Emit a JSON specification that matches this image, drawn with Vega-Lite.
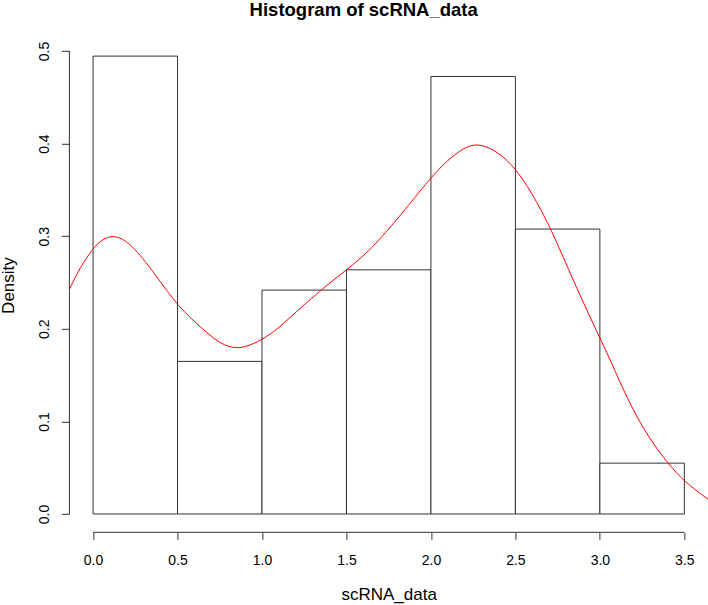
{
  "$schema": "https://vega.github.io/schema/vega-lite/v6.json",
  "width": 638.6,
  "height": 494.5,
  "autosize": {"type": "none"},
  "padding": {"left": 69.4, "top": 37.8, "right": 0, "bottom": 72.7},
  "background": "white",
  "config": {
    "view": {"stroke": null},
    "font": "Liberation Sans",
    "axis": {"domain": false, "grid": false, "tickColor": "#333333", "tickSize": 7, "labelFont": "Liberation Sans", "labelFontSize": 14, "labelColor": "#000000", "titleFont": "Liberation Sans", "titleFontSize": 17, "titleFontWeight": "normal", "titleColor": "#000000", "labelFlush": false, "labelOverlap": false},
    "axisX": {"tickCount": 8, "labelPadding": 14, "labelBaseline": "top", "labelAngle": 0, "titleX": 319.3, "titleY": 67.5, "titleBaseline": "alphabetic", "titleAlign": "center"},
    "axisY": {"tickCount": 6, "labelAngle": -90, "labelAlign": "center", "labelBaseline": "bottom", "labelPadding": 10, "tickSize": 8, "titleAngle": -90, "titleX": -55.5, "titleY": 247.25, "titleAlign": "center", "titleBaseline": "alphabetic"}
  },
  "title": {"text": "Histogram of scRNA_data", "anchor": "middle", "frame": "group", "dx": -25, "dy": 14, "baseline": "alphabetic", "offset": 17.5, "fontSize": 18.5, "fontWeight": "bold", "color": "#000000", "font": "Liberation Sans"},
  "datasets": {
    "bins": [
      {"start": 0.0, "end": 0.5, "density": 0.4945},
      {"start": 0.5, "end": 1.0, "density": 0.1648},
      {"start": 1.0, "end": 1.5, "density": 0.2418},
      {"start": 1.5, "end": 2.0, "density": 0.2637},
      {"start": 2.0, "end": 2.5, "density": 0.4725},
      {"start": 2.5, "end": 3.0, "density": 0.3077},
      {"start": 3.0, "end": 3.5, "density": 0.0549}
    ],
    "dens": [
      {"x": -0.14, "y": 0.2426},
      {"x": -0.075, "y": 0.267},
      {"x": 0.0, "y": 0.287},
      {"x": 0.05, "y": 0.296},
      {"x": 0.107, "y": 0.3005},
      {"x": 0.162, "y": 0.2985},
      {"x": 0.24, "y": 0.289},
      {"x": 0.38, "y": 0.256},
      {"x": 0.5, "y": 0.2245},
      {"x": 0.656, "y": 0.1985},
      {"x": 0.75, "y": 0.184},
      {"x": 0.853, "y": 0.1775},
      {"x": 0.95, "y": 0.1835},
      {"x": 1.05, "y": 0.1935},
      {"x": 1.15, "y": 0.2095},
      {"x": 1.347, "y": 0.242},
      {"x": 1.5, "y": 0.2635},
      {"x": 1.644, "y": 0.285},
      {"x": 1.822, "y": 0.323},
      {"x": 2.0, "y": 0.3636},
      {"x": 2.098, "y": 0.382},
      {"x": 2.2, "y": 0.3965},
      {"x": 2.286, "y": 0.4005},
      {"x": 2.40, "y": 0.391},
      {"x": 2.5, "y": 0.3733},
      {"x": 2.592, "y": 0.3485},
      {"x": 2.711, "y": 0.3085},
      {"x": 2.849, "y": 0.249},
      {"x": 3.0, "y": 0.190},
      {"x": 3.062, "y": 0.1663},
      {"x": 3.165, "y": 0.123},
      {"x": 3.284, "y": 0.0835},
      {"x": 3.402, "y": 0.0547},
      {"x": 3.5, "y": 0.0349},
      {"x": 3.64, "y": 0.0159}
    ]
  },
  "layer": [
    {
      "data": {"name": "bins"},
      "mark": {"type": "rect", "fill": "white", "stroke": "#333333", "strokeWidth": 1},
      "encoding": {
        "x": {"field": "start", "type": "quantitative", "title": "scRNA_data", "scale": {"domain": [-0.14, 3.64], "nice": false, "zero": false}},
        "x2": {"field": "end"},
        "y": {"field": "density", "type": "quantitative", "title": "Density", "scale": {"domain": [-0.01978, 0.51428], "nice": false, "zero": false}},
        "y2": {"datum": 0}
      }
    },
    {
      "data": {"name": "dens"},
      "mark": {"type": "line", "color": "#ff0000", "strokeWidth": 1, "clip": true, "interpolate": "basis"},
      "encoding": {
        "x": {"field": "x", "type": "quantitative", "title": "scRNA_data"},
        "y": {"field": "y", "type": "quantitative", "title": "Density"}
      }
    },
    {
      "data": {"values": [{}]},
      "mark": {"type": "rule", "color": "#333333", "strokeWidth": 1},
      "encoding": {
        "x": {"datum": 0},
        "x2": {"datum": 3.5},
        "y": {"value": "height"}
      }
    },
    {
      "data": {"values": [{}]},
      "mark": {"type": "rule", "color": "#333333", "strokeWidth": 1},
      "encoding": {
        "y": {"datum": 0},
        "y2": {"datum": 0.5},
        "x": {"value": 0}
      }
    }
  ]
}
